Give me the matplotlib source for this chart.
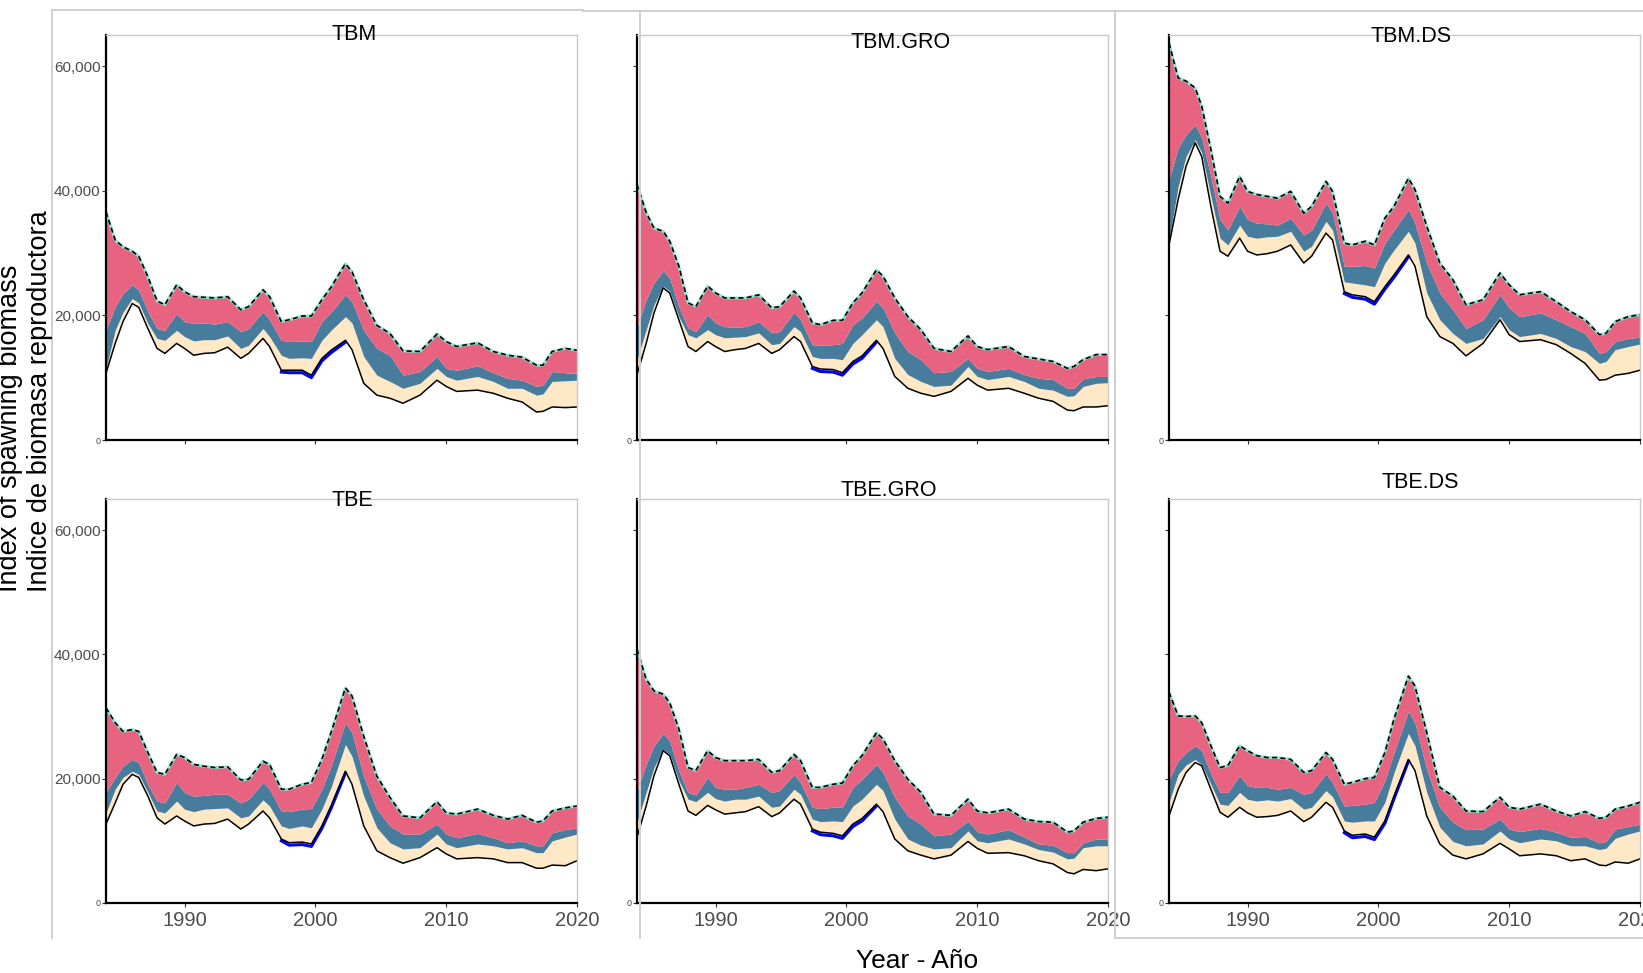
import matplotlib.pyplot as plt
import matplotlib.lines as mlines
import numpy as np

plt.rcParams['font.family'] = ['Liberation Sans', 'DejaVu Sans']

# sample years (same for every scenario), biomass in thousands
years = [1984.0, 1984.7, 1985.3, 1986.0, 1986.5, 1987.2, 1987.9, 1988.5, 1989.4, 1990.0,
         1990.7, 1991.5, 1992.3, 1993.3, 1994.3, 1994.9, 1996.0, 1996.5, 1997.4, 1998.0,
         1999.0, 1999.7, 2000.5, 2001.2, 2002.3, 2002.8, 2003.7, 2004.7, 2005.7, 2006.7,
         2008.0, 2009.3, 2010.0, 2010.8, 2012.4, 2013.6, 2014.7, 2015.8, 2016.9, 2017.4,
         2018.1, 2019.1, 2020.0]
seg_years = [1997.4, 1998.0, 1999.0, 1999.7, 2000.5, 2001.2, 2002.3]

# TBM
tbm_top = [36.6, 32.1, 31.0, 30.3, 29.5, 26.2, 22.3, 21.7, 24.9, 23.8,
           23.0, 22.9, 22.8, 23.0, 20.9, 21.4, 24.1, 23.0, 19.0, 19.3,
           19.9, 19.9, 22.5, 24.5, 28.3, 27.0, 22.5, 18.4, 17.1, 14.3,
           14.2, 17.0, 15.8, 15.0, 15.6, 14.2, 13.6, 13.3, 12.0, 12.0,
           14.2, 14.7, 14.4]
tbm_blue = [17.6, 21.4, 23.5, 24.9, 24.1, 20.6, 17.9, 17.6, 20.3, 19.0,
            18.7, 18.8, 18.6, 19.0, 17.4, 17.9, 20.6, 19.3, 16.0, 15.8,
            15.9, 15.8, 19.0, 20.5, 23.3, 22.2, 17.6, 14.7, 13.6, 10.4,
            11.0, 13.4, 11.5, 11.2, 11.9, 10.8, 9.9, 9.6, 8.6, 8.8,
            11.0, 10.8, 10.7]
tbm_cream = [11.5, 17.6, 20.5, 22.7, 22.0, 18.7, 16.3, 16.0, 17.6, 16.6,
             15.9, 16.1, 16.1, 16.7, 14.7, 15.2, 17.9, 16.6, 13.6, 13.1,
             13.2, 13.1, 16.0, 17.6, 19.8, 18.8, 13.4, 10.4, 9.4, 8.3,
             9.1, 11.5, 10.2, 9.6, 10.2, 9.4, 8.3, 8.3, 7.2, 7.4,
             9.4, 9.5, 9.6]
tbm_base = [10.7, 15.5, 19.0, 21.9, 21.3, 17.9, 14.7, 13.9, 15.5, 14.7,
            13.6, 13.9, 14.0, 14.9, 13.1, 13.9, 16.3, 15.0, 11.2, 11.2,
            11.2, 10.4, 13.1, 14.4, 16.0, 14.5, 9.1, 7.2, 6.7, 5.9,
            7.2, 9.6, 8.6, 7.8, 8.0, 7.5, 6.7, 6.1, 4.5, 4.6,
            5.3, 5.2, 5.3]
tbm_seg = [10.9, 10.8, 10.8, 10.0, 12.7, 14.0, 15.7]

# TBM.GRO
tbmgro_top = [41.0, 36.5, 34.0, 33.5, 31.9, 27.9, 22.0, 21.4, 24.7, 23.6,
              22.8, 22.8, 22.8, 23.3, 21.2, 21.4, 23.9, 22.8, 18.8, 18.5,
              19.2, 19.2, 22.0, 23.6, 27.3, 26.3, 22.8, 19.8, 17.7, 14.7,
              14.2, 16.7, 15.0, 14.5, 15.0, 13.4, 13.0, 12.6, 11.5, 11.8,
              12.9, 13.7, 13.7]
tbmgro_blue = [18.2, 22.5, 25.2, 27.2, 26.0, 21.4, 18.0, 17.4, 20.1, 18.8,
               18.2, 18.1, 18.2, 19.0, 17.2, 17.4, 20.5, 19.3, 15.3, 15.2,
               15.3, 15.5, 18.5, 19.6, 22.3, 21.2, 17.2, 14.2, 12.9, 10.8,
               11.0, 13.1, 11.5, 11.0, 11.5, 10.5, 9.9, 9.7, 8.3, 8.3,
               9.8, 10.2, 10.2]
tbmgro_cream = [12.9, 17.7, 21.7, 24.7, 23.9, 19.8, 16.9, 16.4, 17.7, 16.9,
                16.4, 16.5, 16.6, 17.2, 15.3, 15.5, 18.2, 17.4, 13.4, 13.1,
                13.1, 12.9, 15.5, 16.9, 19.3, 18.2, 13.1, 10.5, 9.4, 8.6,
                8.8, 11.8, 10.2, 9.7, 10.2, 9.4, 8.3, 8.0, 7.0, 7.1,
                8.6, 9.1, 9.2]
tbmgro_base = [10.5, 15.5, 20.4, 24.4, 23.6, 19.3, 15.0, 14.2, 15.8, 15.0,
               14.2, 14.5, 14.7, 15.5, 13.9, 14.5, 16.6, 15.8, 11.8, 11.4,
               11.3, 10.8, 12.6, 13.5, 16.0, 14.7, 10.2, 8.3, 7.5, 7.0,
               7.8, 9.9, 8.8, 8.0, 8.3, 7.5, 6.7, 6.2, 4.8, 4.7,
               5.3, 5.3, 5.5]
tbmgro_seg = [11.5, 11.0, 10.9, 10.4, 12.2, 13.1, 15.7]

# TBM.DS
tbmds_top = [63.7, 58.1, 57.6, 56.5, 53.6, 46.6, 39.1, 38.0, 42.3, 39.9,
             39.4, 39.1, 38.8, 39.9, 36.4, 37.5, 41.5, 39.9, 31.6, 31.3,
             31.9, 31.3, 35.6, 37.5, 42.0, 40.2, 34.3, 28.4, 25.7, 21.7,
             22.5, 26.8, 24.9, 23.3, 23.8, 22.2, 20.6, 19.3, 16.9, 17.1,
             19.0, 19.8, 20.1]
tbmds_blue = [41.8, 46.9, 49.0, 50.6, 48.5, 42.3, 35.4, 33.7, 37.5, 35.4,
              34.8, 34.7, 34.5, 35.6, 32.9, 33.7, 38.0, 36.4, 27.9, 27.9,
              28.0, 27.6, 31.6, 33.7, 37.0, 34.8, 28.4, 23.6, 20.9, 17.9,
              19.3, 23.3, 21.2, 19.8, 20.4, 19.3, 18.2, 17.1, 13.9, 14.2,
              15.8, 16.3, 16.5]
tbmds_cream = [32.1, 40.7, 45.5, 48.2, 46.1, 39.1, 32.4, 31.3, 34.5, 32.7,
               32.4, 32.6, 32.7, 33.5, 30.3, 31.1, 35.1, 33.7, 25.4, 25.2,
               24.9, 24.6, 28.4, 30.5, 33.5, 31.6, 23.6, 19.3, 17.1, 15.5,
               16.3, 19.8, 17.7, 16.6, 17.1, 16.3, 15.0, 14.2, 12.3, 12.6,
               14.5, 15.0, 15.4]
tbmds_base = [31.3, 38.6, 43.9, 47.7, 45.5, 37.5, 30.3, 29.5, 32.4, 30.3,
              29.7, 29.9, 30.3, 31.3, 28.4, 29.5, 33.2, 32.1, 23.8, 23.3,
              23.0, 22.2, 24.6, 26.5, 29.7, 27.9, 19.8, 16.6, 15.5, 13.5,
              15.5, 19.3, 16.9, 15.8, 16.1, 15.3, 13.9, 12.3, 9.6, 9.7,
              10.4, 10.7, 11.2]
tbmds_seg = [23.5, 22.9, 22.6, 21.8, 24.2, 26.1, 29.4]

# TBE
tbe_top = [31.4, 29.0, 27.6, 27.9, 27.6, 24.2, 21.0, 20.7, 23.9, 23.4,
           22.3, 22.0, 21.8, 21.9, 19.8, 19.9, 22.8, 22.3, 18.3, 18.3,
           19.1, 19.4, 23.1, 27.4, 34.6, 33.3, 26.8, 20.4, 17.0, 14.0,
           13.7, 16.3, 14.5, 14.3, 15.1, 14.1, 13.5, 14.1, 13.0, 13.2,
           14.8, 15.3, 15.6]
tbe_blue = [17.8, 20.2, 22.0, 23.1, 22.6, 19.1, 16.4, 16.1, 19.4, 17.8,
            17.2, 17.3, 17.5, 17.5, 16.1, 16.7, 19.4, 18.3, 14.8, 14.7,
            15.1, 15.2, 18.3, 22.0, 29.0, 27.4, 20.4, 15.1, 12.4, 11.1,
            11.1, 12.7, 11.1, 10.5, 11.2, 10.5, 9.7, 10.0, 9.2, 9.2,
            11.3, 11.8, 12.1]
tbe_cream = [14.5, 18.3, 20.2, 21.2, 20.7, 17.8, 14.8, 14.5, 16.4, 15.1,
             14.7, 15.1, 15.2, 15.3, 13.7, 14.0, 16.6, 15.6, 12.4, 12.0,
             12.4, 12.1, 15.1, 18.6, 25.5, 23.6, 17.2, 12.1, 9.7, 8.7,
             8.9, 11.1, 9.5, 8.9, 9.5, 9.2, 8.7, 8.9, 8.1, 8.1,
             10.0, 10.6, 11.1]
tbe_base = [12.7, 16.1, 19.1, 20.7, 20.2, 17.2, 13.7, 12.7, 14.0, 13.2,
            12.4, 12.7, 12.8, 13.5, 11.9, 12.7, 14.8, 13.7, 10.3, 9.7,
            9.8, 9.5, 12.4, 15.6, 21.2, 19.1, 12.4, 8.4, 7.3, 6.4,
            7.3, 8.9, 7.9, 7.1, 7.3, 7.1, 6.5, 6.5, 5.6, 5.6,
            6.1, 6.0, 6.8]
tbe_seg = [10.0, 9.3, 9.4, 9.1, 12.0, 15.2, 20.9]

# TBE.GRO
tbegro_top = [40.8, 36.0, 34.1, 33.6, 32.2, 28.0, 21.8, 21.3, 24.5, 23.4,
              22.9, 22.9, 22.9, 23.1, 21.0, 21.3, 23.9, 22.9, 18.6, 18.6,
              19.1, 19.3, 22.1, 23.7, 27.4, 26.4, 22.9, 19.9, 17.8, 14.3,
              14.1, 16.7, 14.8, 14.5, 15.1, 13.5, 13.1, 13.0, 11.4, 11.6,
              13.0, 13.6, 13.8]
tbegro_blue = [18.1, 22.3, 25.3, 27.3, 26.1, 21.3, 17.8, 17.4, 20.2, 18.6,
               18.3, 18.3, 18.6, 19.1, 17.8, 18.1, 20.7, 19.4, 15.4, 15.2,
               15.4, 15.4, 18.6, 19.9, 22.3, 21.0, 17.0, 14.0, 12.7, 10.8,
               11.1, 13.2, 11.5, 11.1, 11.8, 10.6, 9.5, 9.3, 8.1, 8.1,
               9.7, 10.3, 10.3]
tbegro_cream = [13.0, 17.8, 21.8, 24.7, 23.9, 19.7, 16.7, 16.3, 17.8, 16.8,
                16.4, 16.7, 16.7, 17.2, 15.4, 15.6, 18.3, 17.5, 13.5, 13.1,
                13.2, 13.1, 15.6, 16.7, 19.1, 18.1, 13.5, 10.3, 9.3, 8.7,
                8.9, 11.6, 10.0, 9.7, 10.3, 9.5, 8.6, 8.2, 7.1, 7.2,
                8.9, 9.2, 9.2]
tbegro_base = [10.6, 15.6, 20.5, 24.5, 23.7, 19.1, 14.8, 14.1, 15.7, 15.0,
               14.3, 14.5, 14.7, 15.5, 13.9, 14.5, 16.7, 15.9, 11.9, 11.4,
               11.2, 10.8, 12.7, 13.6, 15.9, 14.7, 10.3, 8.4, 7.7, 7.1,
               7.7, 9.9, 8.8, 8.0, 8.1, 7.6, 6.8, 6.3, 4.9, 4.7,
               5.4, 5.2, 5.5]
tbegro_seg = [11.6, 11.0, 10.8, 10.4, 12.3, 13.2, 15.6]

# TBE.DS
tbeds_top = [33.9, 30.1, 30.0, 30.1, 29.0, 25.3, 21.8, 22.1, 25.3, 24.5,
             23.7, 23.4, 23.4, 23.1, 21.0, 21.3, 24.2, 23.1, 19.1, 19.4,
             20.0, 20.2, 24.2, 29.6, 36.5, 34.9, 27.4, 18.6, 17.2, 14.8,
             14.7, 17.0, 15.4, 15.1, 15.9, 14.8, 14.0, 14.7, 13.6, 13.8,
             15.1, 15.6, 16.2]
tbeds_blue = [19.9, 22.9, 24.2, 25.3, 24.5, 20.8, 17.8, 17.8, 20.5, 18.9,
              18.6, 18.6, 18.3, 18.6, 17.5, 17.8, 20.8, 19.4, 15.6, 15.7,
              15.9, 16.2, 19.7, 24.2, 30.9, 29.0, 21.5, 15.4, 13.0, 11.8,
              11.9, 13.5, 11.9, 11.5, 12.0, 11.4, 10.6, 10.7, 9.7, 9.9,
              11.9, 12.3, 12.7]
tbeds_cream = [16.2, 20.7, 22.2, 23.1, 22.3, 19.1, 15.9, 15.7, 17.8, 16.7,
               16.4, 16.6, 16.4, 16.8, 15.1, 15.4, 18.1, 17.1, 13.2, 13.0,
               13.2, 13.2, 16.2, 21.0, 27.3, 25.3, 17.8, 12.2, 9.9, 9.2,
               9.5, 11.6, 10.3, 9.7, 10.3, 10.0, 9.2, 9.2, 8.6, 8.8,
               10.4, 11.1, 11.6]
tbeds_base = [14.0, 18.3, 21.0, 22.6, 22.1, 18.3, 14.6, 13.8, 15.4, 14.5,
              13.8, 13.9, 14.1, 14.8, 13.1, 13.8, 16.2, 15.4, 11.6, 10.9,
              11.1, 10.6, 13.2, 17.2, 23.1, 21.3, 14.0, 9.5, 7.7, 7.1,
              7.9, 9.6, 8.7, 7.6, 7.9, 7.6, 6.8, 7.1, 6.1, 6.0,
              6.6, 6.4, 7.1]
tbeds_seg = [11.3, 10.5, 10.7, 10.2, 12.8, 16.8, 22.8]

panel_names = ['TBM', 'TBM.GRO', 'TBM.DS', 'TBE', 'TBE.GRO', 'TBE.DS']

col_pink = '#e8637f'
col_blue = '#477c9c'
col_cream = '#ffe8c6'
W, H = 1643, 973


def draw_panel(ax, base, cream, blue, top, seg, first_col, bottom_row):
    x = np.array(years)
    base = np.array(base) * 1000
    cream = np.array(cream) * 1000
    blue = np.array(blue) * 1000
    top = np.array(top) * 1000
    ax.fill_between(x, base, cream, color=col_cream, lw=0)
    ax.fill_between(x, cream, blue, color=col_blue, lw=0)
    ax.fill_between(x, blue, top, color=col_pink, lw=0)
    ax.plot(seg_years, np.array(seg) * 1000, color='#0000ff', lw=2.2)
    ax.plot(x, base, color='black', lw=1.1)
    ax.plot(x, top, color='#8fe3cf', lw=2.0)
    ax.plot(x, top, color='black', lw=1.2, dashes=(3, 2))

    ax.set_xlim(1984, 2020)
    ax.set_ylim(0, 65000)
    for s in ['left', 'bottom']:
        ax.spines[s].set_color('black')
        ax.spines[s].set_linewidth(1.6)
    for s in ['top', 'right']:
        ax.spines[s].set_color('#c8c8c8')
        ax.spines[s].set_linewidth(1.0)

    ax.set_yticks([0, 20000, 40000, 60000])
    if first_col:
        ax.set_yticklabels(['0', '20,000', '40,000', '60,000'])
    else:
        ax.set_yticklabels(['0', '', '', ''])
    ax.tick_params(axis='y', length=3, width=0.8, pad=1, labelsize=11,
                   labelcolor='#4d4d4d', color='#333333')
    ax.get_yticklabels()[0].set_fontsize(6.5)

    ax.set_xticks([1990, 2000, 2010, 2020])
    if bottom_row:
        ax.set_xticklabels(['1990', '2000', '2010', '2020'])
    else:
        ax.set_xticklabels([])
    ax.tick_params(axis='x', length=3, width=0.8, pad=3, labelsize=14.5,
                   labelcolor='#4d4d4d', color='#333333')


fig = plt.figure(figsize=(W / 100, H / 100), dpi=100)

# light frames around each column
frame = '#cfcfcf'
segs = [((52, 52), (10, 938)), ((52, 583), (10, 10)),
        ((640, 640), (11, 938)), ((583, 1115), (11, 11)),
        ((1115, 1115), (11, 938)), ((1115, 1643), (11, 11)), ((1115, 1643), (938, 938))]
for xs, ys in segs:
    fig.add_artist(mlines.Line2D([v / W for v in xs], [1 - v / H for v in ys],
                                 color=frame, lw=1.4))

lefts = [106, 637, 1169]
rows = [(35, 440), (499, 903)]
data = [(tbm_base, tbm_cream, tbm_blue, tbm_top, tbm_seg),
        (tbmgro_base, tbmgro_cream, tbmgro_blue, tbmgro_top, tbmgro_seg),
        (tbmds_base, tbmds_cream, tbmds_blue, tbmds_top, tbmds_seg),
        (tbe_base, tbe_cream, tbe_blue, tbe_top, tbe_seg),
        (tbegro_base, tbegro_cream, tbegro_blue, tbegro_top, tbegro_seg),
        (tbeds_base, tbeds_cream, tbeds_blue, tbeds_top, tbeds_seg)]

for i, d in enumerate(data):
    r, c = divmod(i, 3)
    t, b = rows[r]
    ax = fig.add_axes([lefts[c] / W, 1 - b / H, 471 / W, (b - t) / H])
    draw_panel(ax, *d, first_col=(c == 0), bottom_row=(r == 1))

# panel titles
title_pos = [(354, 35), (901, 42), (1411, 37), (352, 500), (889, 490), (1420, 483)]
for name, (tx, ty) in zip(panel_names, title_pos):
    fig.text(tx / W, 1 - ty / H, name, ha='center', va='center', fontsize=15.5)

fig.text(25 / W, 1 - 592 / H, 'Index of spawning biomass\nIndice de biomasa reproductora',
         rotation=90, ha='center', va='bottom', multialignment='left', fontsize=19.5)
fig.text(917 / W, 1 - 961 / H, 'Year - Año', ha='center', va='center', fontsize=19)

plt.savefig('out.png', dpi=100)
